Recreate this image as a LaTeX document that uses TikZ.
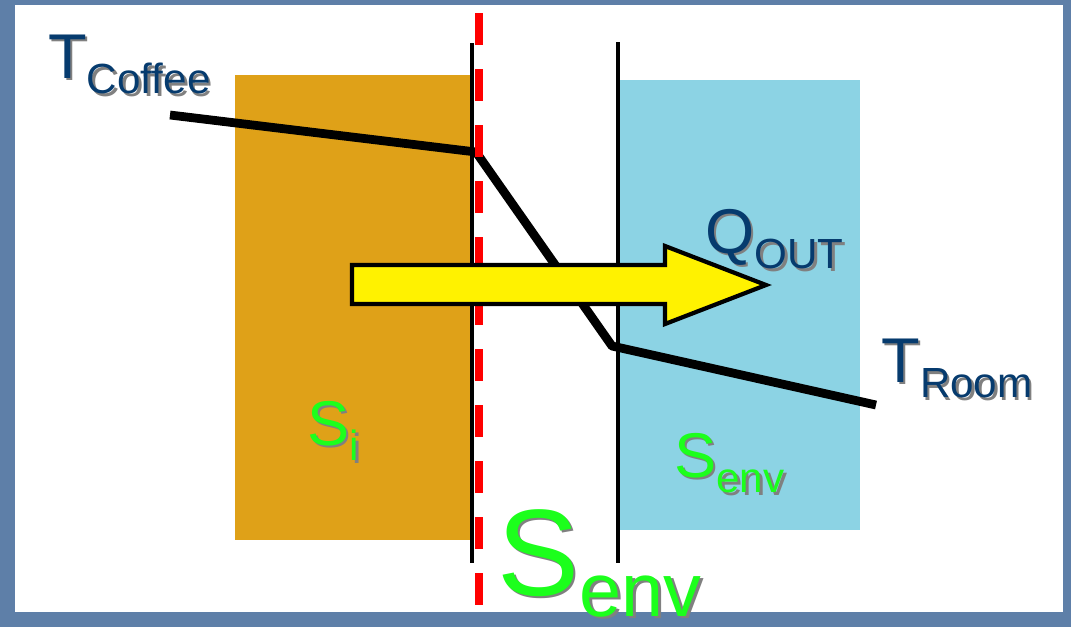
\documentclass[tikz,border=0pt]{standalone}
\usepackage{fontspec}
\setmainfont{Liberation Sans}
\usetikzlibrary{positioning}
\definecolor{slideblue}{HTML}{5E7FA8}
\definecolor{cupbrown}{HTML}{DFA118}
\definecolor{roomblue}{HTML}{8CD3E4}
\definecolor{labelnavy}{HTML}{063B6E}
\definecolor{labelgreen}{HTML}{1CFF1C}
\newcommand{\shadowed}[1]{\makebox[0pt][l]{\hspace{1.5pt}\raisebox{-1.5pt}{\color{black!50}#1}}#1}
\newcommand{\symsub}[2]{\shadowed{{\fontsize{36}{36}\selectfont #1}\raisebox{-9pt}{\fontsize{24}{24}\selectfont #2}}}
\begin{document}
\begin{tikzpicture}[x=0.02cm, y=-0.02cm,
  wall/.style={line width=2.5pt, draw=black},
  boundary/.style={line width=4.5pt, draw=red, dash pattern=on 18.2pt off 13.7pt},
  profile/.style={line width=5pt, draw=black, line join=round},
  heatflow/.style={fill=yellow, draw=black, line width=2.4pt, line join=miter},
  navylabel/.style={inner sep=0pt, anchor=base west, text=labelnavy},
  greenlabel/.style={inner sep=0pt, anchor=base west, text=labelgreen}
]
% slide frame
\fill[slideblue] (0,0) rectangle (1071,627);
\fill[white] (15,5) rectangle (1063,612);
\useasboundingbox (0,0) rectangle (1071,627);

% coffee and room
\fill[cupbrown] (235,75) rectangle (472,540);
\fill[roomblue] (618,80) rectangle (860,530);
\draw[wall] (472,43) -- (472,563);
\draw[wall] (618,42) -- (618,563);

% temperature profile
\coordinate (hot) at (170,115);
\coordinate (cupwall) at (476,152);
\coordinate (roomwall) at (612,346);
\coordinate (cold) at (876,405);
\draw[profile] (hot) -- (cupwall) -- (roomwall) -- (cold);

% system boundary
\draw[boundary] (479,13) -- (479,607);

% heat out
\draw[heatflow] (352,265) -- (665,265) -- (665,246) -- (766,285)
  -- (665,324) -- (665,304) -- (352,304) -- cycle;

% labels
\node[navylabel] (tcoffee) at (48,78) {\symsub{T}{Coffee}};
\node[navylabel] (qout) at (705,253) {\symsub{Q}{OUT}};
\node[navylabel] (troom) at (881,382) {\symsub{T}{Room}};
\node[greenlabel] (si) at (307,445) {\symsub{S}{i}};
\node[greenlabel] (senv) at (674,477) {\symsub{S}{env}};
\node[greenlabel] (senvbig) at (497,595)
  {\shadowed{{\fontsize{70}{70}\selectfont S}\raisebox{-12pt}{\fontsize{43}{43}\selectfont env}}};
\end{tikzpicture}
\end{document}
